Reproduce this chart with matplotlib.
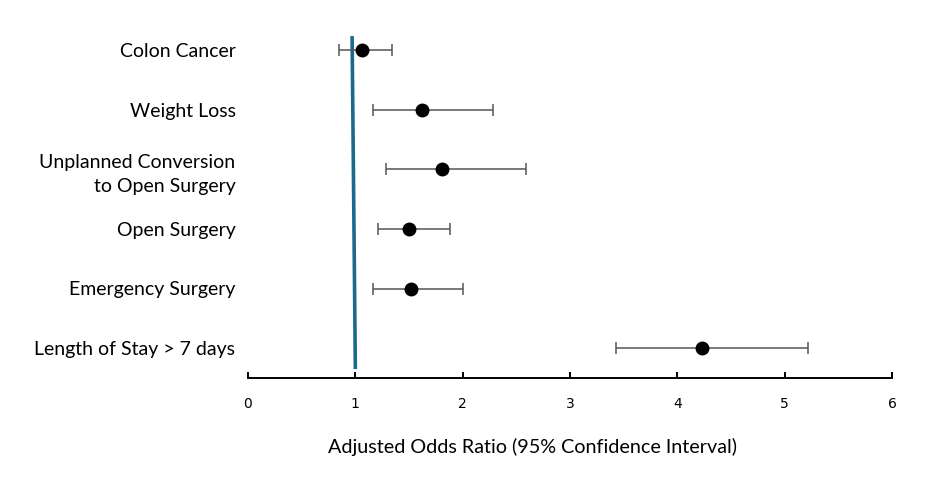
import matplotlib.pyplot as plt
import numpy as np

labels = ['Colon Cancer', 'Weight Loss', 'Unplanned Conversion\nto Open Surgery',
          'Open Surgery', 'Emergency Surgery', 'Length of Stay > 7 days']
odds = [1.06, 1.62, 1.81, 1.50, 1.52, 4.23]
ci_low = [0.85, 1.16, 1.29, 1.21, 1.16, 3.43]
ci_high = [1.34, 2.28, 2.59, 1.88, 2.00, 5.22]
xticks = [0, 1, 2, 3, 4, 5, 6]

fig = plt.figure(figsize=(9.36, 4.88), dpi=100)
ax = fig.add_axes([248/936, 1-378/488, 644/936, 358/488])

y = np.arange(len(labels))
odds = np.array(odds)
err = [odds - np.array(ci_low), np.array(ci_high) - odds]

# reference line at 1 (drawn slightly slanted like the original)
ax.plot([0.97, 1.0], [-0.2, 5.32], color='#1B6A8C', linewidth=2.6, zorder=1)

ax.errorbar(odds, y, xerr=err, fmt='o', color='black', markersize=9,
            ecolor='#555555', elinewidth=1.1, capsize=4, capthick=1.1, zorder=3)

ax.set_ylim(5.5, -0.5)
ax.set_xlim(0, 6)
ax.set_xticks(xticks)
ax.set_xticklabels([str(t) for t in xticks], fontsize=10, family='Liberation Sans Narrow')
ax.set_yticks(y)
ax.set_yticklabels(labels, fontsize=14, family='Lato', multialignment='right',
                   linespacing=1.55)
ax.tick_params(axis='y', length=0, pad=9)
ax.tick_params(axis='x', direction='in', length=4, width=1.4, pad=14)

for s in ['top', 'right', 'left']:
    ax.spines[s].set_visible(False)
ax.spines['bottom'].set_linewidth(1.4)

fig.text(532/936, 1-447/488, 'Adjusted Odds Ratio (95% Confidence Interval)',
         ha='center', va='center', fontsize=14.2, family='Lato')

plt.savefig('out.png', dpi=100)
